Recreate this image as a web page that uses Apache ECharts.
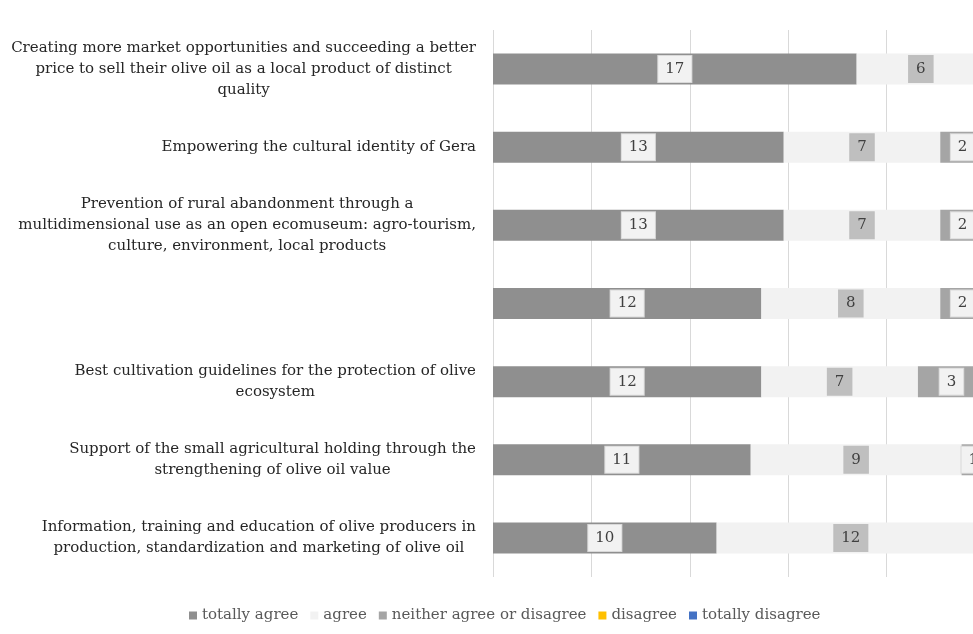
<!DOCTYPE html>
<html>
<head>
<meta charset="utf-8">
<script src="https://cdn.jsdelivr.net/npm/echarts@6/dist/echarts.min.js"></script>
<style>
  html, body { margin: 0; padding: 0; background: #ffffff; }
  #chart { width: 973px; height: 634px; }
</style>
</head>
<body>
<div id="chart"></div>
<script>
// Survey statements (top to bottom), responses counted per answer
const categories = [
  'Creating more market opportunities and succeeding a better\nprice to sell their olive oil as a local product of distinct\nquality',
  'Empowering the cultural identity of Gera',
  'Prevention of rural abandonment through a\nmultidimensional use as an open ecomuseum: agro-tourism,\nculture, environment, local products',
  '',
  'Best cultivation guidelines for the protection of olive\necosystem',
  'Support of the small agricultural holding through the\nstrengthening of olive oil value',
  'Information, training and education of olive producers in\nproduction, standardization and marketing of olive oil'
];
const totallyAgree    = [17, 13, 13, 12, 12, 11, 10];
const agree           = [6, 7, 7, 8, 7, 9, 12];
const neither         = [0, 2, 2, 2, 3, 1, 0];
const disagree        = [0, 0, 0, 0, 0, 0, 0];
const totallyDisagree = [0, 0, 0, 0, 0, 0, 0];
const xTicks = [0, 20, 40, 60, 80, 100];

const serif = '"DejaVu Serif", "Liberation Serif", serif';

const totals = categories.map((_, i) =>
  totallyAgree[i] + agree[i] + neither[i] + disagree[i] + totallyDisagree[i]);

// Each segment is drawn as a share of its row total; labels show the raw count
function shares(counts) {
  return counts.map((c, i) => ({
    value: c / totals[i] * 100,
    count: c,
    label: { show: c > 0 }
  }));
}

function makeSeries(name, counts, color, labelBg, labelBorder) {
  return {
    name: name,
    type: 'bar',
    stack: 'all',
    barWidth: 31,
    itemStyle: { color: color },
    label: {
      show: true,
      position: 'inside',
      formatter: p => String(p.data.count),
      color: '#404040',
      fontFamily: serif,
      fontSize: 15,
      backgroundColor: labelBg,
      borderColor: labelBorder,
      borderWidth: 1,
      padding: [6, 7, 5, 7]
    },
    emphasis: { disabled: true },
    data: shares(counts)
  };
}

const chart = echarts.init(document.getElementById('chart'));
chart.setOption({
  animation: false,
  backgroundColor: '#ffffff',
  // plot area runs a little past the right edge of the canvas
  grid: {
    left: 493, width: 492, top: 30, bottom: 57,
    containLabel: false,
    outerBoundsMode: 'none'
  },
  legend: {
    left: 184,
    top: 603,
    icon: 'rect',
    itemWidth: 8,
    itemHeight: 8,
    itemGap: 12,
    textStyle: { fontFamily: serif, fontSize: 15, color: '#595959' },
    data: ['totally agree', 'agree', 'neither agree or disagree', 'disagree', 'totally disagree']
  },
  xAxis: {
    type: 'value',
    min: xTicks[0],
    max: xTicks[xTicks.length - 1],
    interval: xTicks[1] - xTicks[0],
    axisLabel: { show: false },
    axisLine: { show: false },
    axisTick: { show: false },
    splitLine: { show: true, lineStyle: { color: '#d9d9d9', width: 1 } }
  },
  yAxis: {
    type: 'category',
    inverse: true,
    data: categories,
    axisLine: { show: false },
    axisTick: { show: false },
    axisLabel: {
      margin: 17,
      formatter: v => v.split('\n').map(l => '{c|' + l + '}').join('\n'),
      rich: {
        c: {
          align: 'center',
          fontFamily: serif,
          fontSize: 15,
          lineHeight: 21,
          color: '#262626'
        }
      }
    }
  },
  series: [
    makeSeries('totally agree', totallyAgree, '#8f8f8f', '#f2f2f2', '#d9d9d9'),
    makeSeries('agree', agree, '#f2f2f2', '#bfbfbf', '#bfbfbf'),
    makeSeries('neither agree or disagree', neither, '#a5a5a5', '#f2f2f2', '#d9d9d9'),
    makeSeries('disagree', disagree, '#ffc000', '#ffffff', '#d9d9d9'),
    makeSeries('totally disagree', totallyDisagree, '#4472c4', '#ffffff', '#d9d9d9')
  ]
});
</script>
</body>
</html>
